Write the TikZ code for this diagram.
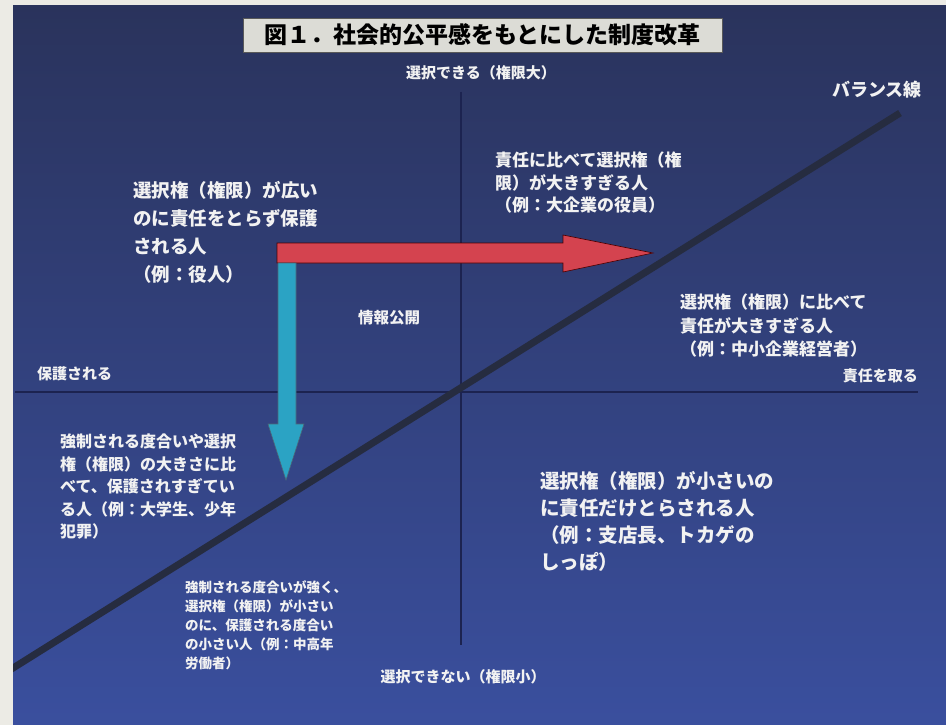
\documentclass[tikz,border=0pt]{standalone}
\usepackage{fontspec}
\newfontfamily\jp{Noto Sans CJK JP}
\definecolor{bgtop}{HTML}{2A335C}
\definecolor{bgmid}{HTML}{2E3B84}
\definecolor{bgbot}{HTML}{3A4F9E}
\definecolor{margin}{HTML}{ECEBE5}
\definecolor{axis}{HTML}{1C2350}
\definecolor{bal}{HTML}{262C40}
\definecolor{redarr}{HTML}{D4434F}
\definecolor{cyanarr}{HTML}{2BA3C4}
\definecolor{txt}{HTML}{F2F2F2}
\definecolor{titlebg}{HTML}{DCDCD6}
\tikzset{
  lbl/.style={text=txt, inner sep=0pt, font=\jp\bfseries\fontsize{15}{18}\selectfont},
  block/.style={text=txt, inner sep=0pt, anchor=north west, align=left},
}
\begin{document}
\begin{tikzpicture}[x=1pt,y=-1pt]
\useasboundingbox (0,0) rectangle (946,725);
\fill[margin] (0,0) rectangle (946,725);
\shade[top color=bgtop, middle color=bgmid, bottom color=bgbot] (13,6) rectangle (946,725);
% title
\node[draw=gray!70!black, fill=titlebg, minimum width=479pt, minimum height=34pt, inner sep=0pt,
      font=\jp\bfseries\fontsize{23}{26}\selectfont, text=black] (title) at (482.5,35) {図１．社会的公平感をもとにした制度改革};
% axes
\coordinate (vtop) at (461,92);
\coordinate (vbot) at (461,645);
\coordinate (hl) at (15,392);
\coordinate (hr) at (918,392);
\draw[axis, line width=1.3pt] (vtop) -- (vbot);
\draw[axis, line width=1.3pt] (hl) -- (hr);
% balance line
\coordinate (b1) at (3,674.3);
\coordinate (b2) at (900,113);
\begin{scope}
\clip (13,6) rectangle (946,725);
\draw[bal, line width=7pt] (b1) -- (b2);
\end{scope}
% arrows
\draw[fill=redarr, draw=black!70!red, line width=0.6pt]
  (277,243) -- (563,243) -- (563,235) -- (653,253) -- (563,272) -- (563,263) -- (277,263) -- cycle;
\draw[fill=cyanarr, draw=black!60!cyan, line width=0.6pt]
  (278,263) -- (296,263) -- (296,424) -- (304,424) -- (286,480) -- (268,424) -- (278,424) -- cycle;
% axis labels
\node[lbl] (top) at (481,73) {選択できる（権限大）};
\node[lbl] (bottom) at (463,677) {選択できない（権限小）};
\node[lbl, anchor=west] (left) at (37,374) {保護される};
\node[lbl, anchor=east] (right) at (918,376) {責任を取る};
\node[lbl, font=\jp\bfseries\fontsize{15.5}{18}\selectfont] (info) at (389,318) {情報公開};
\node[lbl, font=\jp\bfseries\fontsize{18}{20}\selectfont] (balance) at (877,90) {バランス線};
% blocks
\node[block, font=\jp\bfseries\fontsize{18.5}{28}\selectfont] (A) at (133,181)
  {選択権（権限）が広い\\のに責任をとらず保護\\される人\\（例：役人）};
\node[block, font=\jp\bfseries\fontsize{17}{22.5}\selectfont] (B) at (495,152)
  {責任に比べて選択権（権\\限）が大きすぎる人\\（例：大企業の役員）};
\node[block, font=\jp\bfseries\fontsize{17}{23.5}\selectfont] (C) at (680,294)
  {選択権（権限）に比べて\\責任が大きすぎる人\\（例：中小企業経営者）};
\node[block, font=\jp\bfseries\fontsize{16}{22.4}\selectfont] (D) at (60,434)
  {強制される度合いや選択\\権（権限）の大きさに比\\べて、保護されすぎてい\\る人（例：大学生、少年\\犯罪）};
\node[block, font=\jp\bfseries\fontsize{19.5}{27}\selectfont] (E) at (540,471)
  {選択権（権限）が小さいの\\に責任だけとらされる人\\（例：支店長、トカゲの\\しっぽ）};
\node[block, font=\jp\bfseries\fontsize{13.5}{19}\selectfont] (F) at (185,580)
  {強制される度合いが強く、\\選択権（権限）が小さい\\のに、保護される度合い\\の小さい人（例：中高年\\労働者）};
\end{tikzpicture}
\end{document}
